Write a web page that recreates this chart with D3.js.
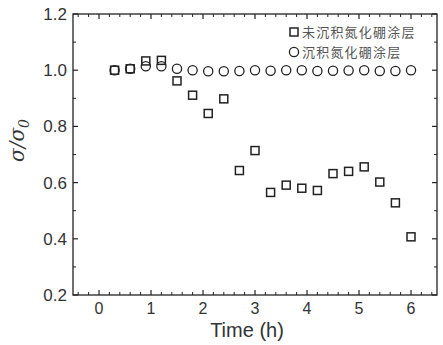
<!DOCTYPE html>
<html><head><meta charset="utf-8">
<script src="https://cdn.jsdelivr.net/npm/d3@7"></script>
<style>body{margin:0;background:#fff}svg{display:block}</style>
</head><body>
<script>
const times = [0.3,0.6,0.9,1.2,1.5,1.8,2.1,2.4,2.7,3.0,3.3,3.6,3.9,4.2,4.5,4.8,5.1,5.4,5.7,6.0];
const uncoated = [1.0,1.005,1.033,1.035,0.962,0.911,0.846,0.898,0.643,0.714,0.565,0.591,0.580,0.572,0.632,0.640,0.656,0.602,0.528,0.407];
const coated = [1.0,1.005,1.014,1.014,1.005,1.0,0.996,0.996,0.997,1.0,0.998,1.0,1.0,0.997,0.998,0.999,1.0,0.997,0.997,1.0];
const seriesNames = ["未沉积氮化硼涂层","沉积氮化硼涂层"];
const xTicks = [0,1,2,3,4,5,6];
const yTicks = [0.2,0.4,0.6,0.8,1.0,1.2];

const W=443,H=345;
const m={l:73,r:6,t:14,b:50};
const svg=d3.select("body").append("svg").attr("width",W).attr("height",H);
const x=d3.scaleLinear().domain([-0.5,6.5]).range([m.l,W-m.r]);
const y=d3.scaleLinear().domain([0.2,1.2]).range([H-m.b,m.t]);
const col="#222", txt="#333";
const font="Arial, 'Liberation Sans', sans-serif";

// frame
svg.append("rect").attr("x",x(-0.5)).attr("y",y(1.2)).attr("width",x(6.5)-x(-0.5)).attr("height",y(0.2)-y(1.2))
  .attr("fill","none").attr("stroke",col).attr("stroke-width",1.3);

const xMinor=d3.range(-0.4,6.5,0.2).filter(v=>Math.abs(v-Math.round(v))>1e-6);
const yMinor=d3.range(0.3,1.2,0.1).filter(v=>Math.abs(v*5-Math.round(v*5))>1e-6);
function ticksX(g,yPos,dir){
  g.selectAll(null).data(xTicks).enter().append("line").attr("x1",d=>x(d)).attr("x2",d=>x(d)).attr("y1",yPos).attr("y2",yPos+dir*5).attr("stroke",col).attr("stroke-width",1.2);
  g.selectAll(null).data(xMinor).enter().append("line").attr("x1",d=>x(d)).attr("x2",d=>x(d)).attr("y1",yPos).attr("y2",yPos+dir*3).attr("stroke",col).attr("stroke-width",1);
}
function ticksY(g,xPos,dir){
  g.selectAll(null).data(yTicks).enter().append("line").attr("y1",d=>y(d)).attr("y2",d=>y(d)).attr("x1",xPos).attr("x2",xPos+dir*5).attr("stroke",col).attr("stroke-width",1.2);
  g.selectAll(null).data(yMinor).enter().append("line").attr("y1",d=>y(d)).attr("y2",d=>y(d)).attr("x1",xPos).attr("x2",xPos+dir*3).attr("stroke",col).attr("stroke-width",1);
}
const tg=svg.append("g");
ticksX(tg,y(0.2),-1); ticksX(tg,y(1.2),1);
ticksY(tg,x(-0.5),1); ticksY(tg,x(6.5),-1);

// tick labels
svg.append("g").selectAll("text").data(xTicks).enter().append("text")
  .attr("x",d=>x(d)).attr("y",y(0.2)+19).attr("text-anchor","middle")
  .attr("font-family",font).attr("font-size",16).attr("fill",txt).text(d=>d);
svg.append("g").selectAll("text").data(yTicks).enter().append("text")
  .attr("x",x(-0.5)-6).attr("y",d=>y(d)+6).attr("text-anchor","end")
  .attr("font-family",font).attr("font-size",17).attr("fill",txt).text(d=>d.toFixed(1));

// titles
svg.append("text").attr("x",(x(-0.5)+x(6.5))/2-8).attr("y",337).attr("text-anchor","middle")
  .attr("font-family",font).attr("font-size",20).attr("fill",txt).text("Time (h)");
const yt=svg.append("text").attr("transform",`translate(24,${y(0.75)}) rotate(-90)`).attr("text-anchor","middle")
  .attr("font-family","'DejaVu Serif', serif").attr("font-style","italic").attr("font-size",20).attr("fill",txt);
yt.append("tspan").text("σ/σ");
yt.append("tspan").attr("font-size",14).attr("dy",5).text("0");

// data
const sq=8, cr=4.6;
svg.append("g").selectAll("rect").data(times).enter().append("rect")
  .attr("x",(d)=>x(d)-sq/2).attr("y",(d,i)=>y(uncoated[i])-sq/2).attr("width",sq).attr("height",sq)
  .attr("fill","none").attr("stroke",col).attr("stroke-width",1.5);
svg.append("g").selectAll("circle").data(times).enter().append("circle")
  .attr("cx",d=>x(d)).attr("cy",(d,i)=>y(coated[i])).attr("r",cr)
  .attr("fill","none").attr("stroke",col).attr("stroke-width",1.3);

// legend
const lg=svg.append("g");
lg.append("rect").attr("x",294-sq/2).attr("y",32-sq/2).attr("width",sq).attr("height",sq).attr("fill","none").attr("stroke",col).attr("stroke-width",1.5);
lg.append("circle").attr("cx",294).attr("cy",52).attr("r",cr).attr("fill","none").attr("stroke",col).attr("stroke-width",1.3);
lg.selectAll("text").data(seriesNames).enter().append("text").attr("x",302).attr("y",(d,i)=>32+i*20+4.5)
  .attr("font-family","'Noto Sans CJK SC', sans-serif").attr("font-size",13).attr("letter-spacing",1.2).attr("fill","#555").text(d=>d);
</script>
</body></html>
